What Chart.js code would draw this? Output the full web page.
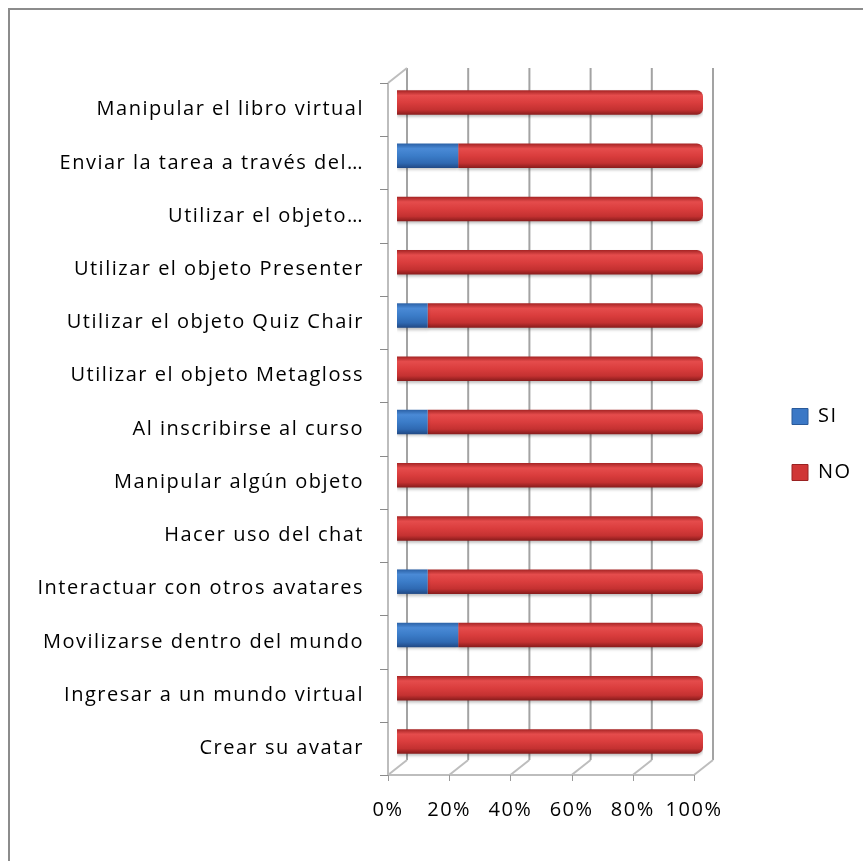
<!DOCTYPE html>
<html>
<head>
<meta charset="utf-8">
<script src="https://cdn.jsdelivr.net/npm/chart.js@4"></script>
<style>
  body { margin: 0; background: #fff; }
  #wrap { position: relative; width: 863px; height: 861px; overflow: hidden; }
  #frame { position: absolute; left: 8px; top: 8px; width: 900px; height: 900px;
           border-top: 2px solid #8c8c8c; border-left: 2px solid #8c8c8c; }
  #chart { position: absolute; left: 0; top: 0; }
</style>
</head>
<body>
<div id="wrap">
  <div id="frame"></div>
  <canvas id="chart" width="863" height="861"></canvas>
</div>
<script>
// Categories, top to bottom
const categories = [
    'Manipular el libro virtual',
    'Enviar la tarea a través del…',
    'Utilizar el objeto…',
    'Utilizar el objeto Presenter',
    'Utilizar el objeto Quiz Chair',
    'Utilizar el objeto Metagloss',
    'Al inscribirse al curso',
    'Manipular algún objeto',
    'Hacer uso del chat',
    'Interactuar con otros avatares',
    'Movilizarse dentro del mundo',
    'Ingresar a un mundo virtual',
    'Crear su avatar'
];

// Percentages per category
const siValues = [0, 20, 0, 0, 10, 0, 10, 0, 0, 10, 20, 0, 0];
const noValues = [100, 80, 100, 100, 90, 100, 90, 100, 100, 90, 80, 100, 100];

const seriesNames = ['SI', 'NO'];
const xTickValues = [0, 20, 40, 60, 80, 100];

// Gradient stops for the "cylinder" look of each bar
const blueStops = ['#2d63a8', '#4a8ad6', '#3b7cc8', '#2f69b2', '#214a86'];
const redStops = ['#a82626', '#e54c4c', '#da3d3d', '#c43131', '#8a1c1c'];

// 3D depth offsets (front and back planes relative to the bars)
const depth = { frontDx: -9, frontDy: 7, backDx: 10, backDy: -8 };

function barGradient(context, stops) {
    const chart = context.chart;
    if (!chart.chartArea || context.dataIndex === undefined) return stops[2];
    const yc = chart.scales.y.getPixelForValue(context.dataIndex);
    const h = 12;
    const g = chart.ctx.createLinearGradient(0, yc - h, 0, yc + h);
    g.addColorStop(0, stops[0]);
    g.addColorStop(0.2, stops[1]);
    g.addColorStop(0.5, stops[2]);
    g.addColorStop(0.8, stops[3]);
    g.addColorStop(1, stops[4]);
    return g;
}

// Letter spacing to get closer to the wide Calibri look
const spacingPlugin = {
    id: 'spacing',
    beforeUpdate(chart) { chart.ctx.letterSpacing = '1.5px'; },
    beforeDraw(chart) { chart.ctx.letterSpacing = '1.5px'; }
};

// Fixed legend size and position
const legendPlugin = {
    id: 'legendPos',
    beforeLayout(chart) {
        const lg = chart.legend;
        if (lg && !lg._patched) {
            const fit = lg.fit;
            lg.fit = function () {
                fit.call(this);
                this.width = 160;
            };
            lg._patched = true;
        }
    },
    afterLayout(chart) {
        const lg = chart.legend;
        const w = lg.width;
        lg.left = 792 - 36;
        lg.right = lg.left + w;
        lg.top -= 24;
        lg.bottom -= 24;
    }
};

// Walls, floor and back grid of the 3D plot
const wallPlugin = {
    id: 'walls',
    beforeDatasetsDraw(chart) {
        const { ctx, chartArea: a } = chart;
        const x = chart.scales.x;
        const n = categories.length;
        const line = (x1, y1, x2, y2) => {
            ctx.beginPath();
            ctx.moveTo(x1, y1);
            ctx.lineTo(x2, y2);
            ctx.stroke();
        };
        ctx.save();
        ctx.lineCap = 'butt';

        // back wall grid
        ctx.strokeStyle = '#a3a3a3';
        ctx.lineWidth = 2;
        xTickValues.forEach(v => {
            const px = x.getPixelForValue(v) + depth.backDx;
            line(px, a.top + depth.backDy, px, a.bottom + depth.backDy);
        });

        // floor
        ctx.strokeStyle = '#bdbdbd';
        ctx.lineWidth = 2;
        const yF = a.bottom + depth.frontDy;
        const yB = a.bottom + depth.backDy;
        line(x.getPixelForValue(0) + depth.frontDx, yF, x.getPixelForValue(100) + depth.frontDx, yF);
        xTickValues.forEach(v => {
            const xm = x.getPixelForValue(v);
            line(xm + depth.frontDx, yF, xm + depth.backDx, yB);
        });
        ctx.strokeStyle = '#9a9a9a';
        ctx.lineWidth = 1;
        xTickValues.forEach(v => {
            const xf = Math.round(x.getPixelForValue(v) + depth.frontDx) + 0.5;
            line(xf, yF, xf, yF + 6);
        });

        // left wall
        const x0f = x.getPixelForValue(0) + depth.frontDx;
        const x0b = x.getPixelForValue(0) + depth.backDx;
        ctx.strokeStyle = '#bdbdbd';
        ctx.lineWidth = 2;
        line(x0f, a.top + depth.frontDy, x0f, yF);
        line(x0f, a.top + depth.frontDy, x0b, a.top + depth.backDy);
        ctx.strokeStyle = '#8a8a8a';
        ctx.lineWidth = 1;
        for (let i = 0; i <= n; i++) {
            const yb = Math.round(a.top + i * a.height / n + depth.frontDy) + 0.5;
            line(x0f - 8, yb, x0f, yb);
        }
        ctx.restore();

        // soft shadow under the bars
        ctx.save();
        ctx.shadowColor = 'rgba(0,0,0,0.25)';
        ctx.shadowBlur = 3;
        ctx.shadowOffsetY = 2;
    },
    afterDatasetsDraw(chart) {
        chart.ctx.restore();
    }
};

const ctx = document.getElementById('chart').getContext('2d');
const chart = new Chart(ctx, {
    type: 'bar',
    data: {
        labels: categories,
        datasets: [
            {
                label: seriesNames[0],
                data: siValues,
                backgroundColor: c => barGradient(c, blueStops),
                borderWidth: 0,
                borderRadius: 0,
                categoryPercentage: 1,
                barPercentage: 0.46
            },
            {
                label: seriesNames[1],
                data: noValues,
                backgroundColor: c => barGradient(c, redStops),
                borderWidth: 0,
                borderRadius: 6,
                categoryPercentage: 1,
                barPercentage: 0.46
            }
        ]
    },
    options: {
        indexAxis: 'y',
        responsive: false,
        animation: false,
        layout: { padding: { left: 0, right: 0, top: 76, bottom: 0 } },
        scales: {
            x: {
                stacked: true,
                min: 0,
                max: 100,
                border: { display: false },
                grid: { display: false, drawTicks: false },
                afterFit: scale => { scale.height = 93; },
                afterBuildTicks: scale => {
                    scale.ticks = xTickValues.map(v => ({ value: v }));
                },
                ticks: {
                    padding: 30,
                    labelOffset: -9,
                    maxRotation: 0,
                    minRotation: 0,
                    autoSkip: false,
                    color: '#000',
                    font: { family: 'Open Sans', size: 20 },
                    callback: v => v + '%'
                }
            },
            y: {
                stacked: true,
                border: { display: false },
                grid: { display: false, drawTicks: false },
                afterFit: scale => { scale.width = 397; },
                ticks: {
                    padding: 33,
                    labelOffset: 7,
                    autoSkip: false,
                    color: '#000',
                    font: { family: 'Open Sans', size: 20 }
                }
            }
        },
        plugins: {
            tooltip: { enabled: false },
            legend: {
                position: 'right',
                labels: {
                    boxWidth: 16,
                    boxHeight: 16,
                    padding: 36,
                    color: '#000',
                    font: { family: 'Open Sans', size: 20 },
                    generateLabels: chart => {
                        const items = Chart.defaults.plugins.legend.labels.generateLabels(chart);
                        const fills = ['#3b78c6', '#d03636'];
                        const strokes = ['#2a5a9a', '#9a2222'];
                        items.forEach((it, i) => {
                            it.fillStyle = fills[i];
                            it.strokeStyle = strokes[i];
                            it.lineWidth = 1;
                        });
                        return items;
                    }
                }
            }
        }
    },
    plugins: [spacingPlugin, legendPlugin, wallPlugin]
});
</script>
</body>
</html>
